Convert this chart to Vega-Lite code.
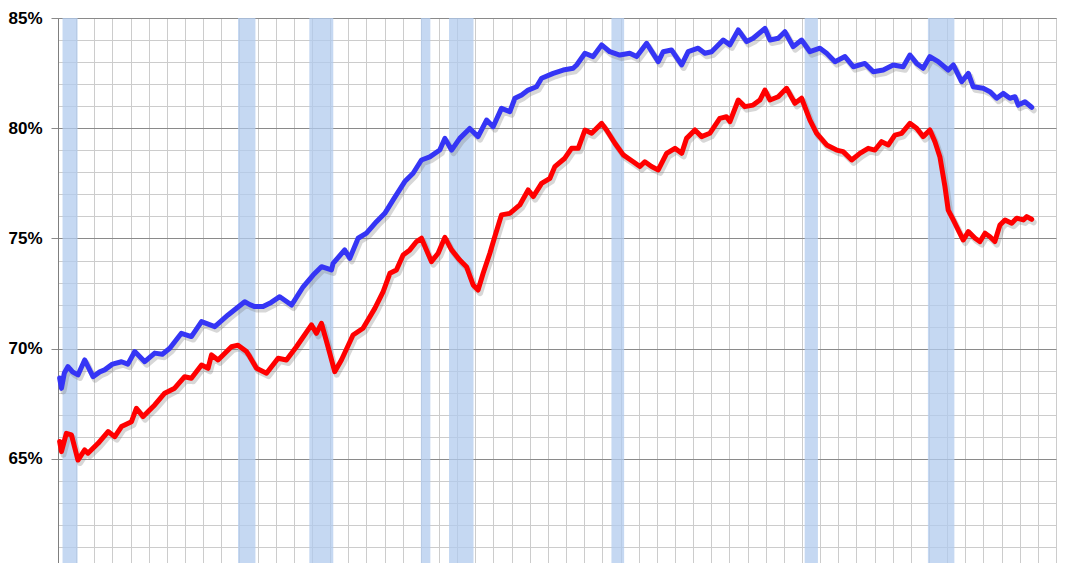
{
  "$schema": "https://vega.github.io/schema/vega-lite/v6.json",
  "width": 998,
  "height": 545,
  "autosize": {"type": "none"},
  "padding": {"left": 58, "top": 18, "right": 16, "bottom": 0},
  "background": "white",
  "config": {"view": {"stroke": "#8c8c8c", "strokeWidth": 1}},
  "datasets": {
    "rec": [
      {"start": 1960.25, "end": 1961.08},
      {"start": 1969.92, "end": 1970.88},
      {"start": 1973.85, "end": 1975.17},
      {"start": 1980.0, "end": 1980.52},
      {"start": 1981.55, "end": 1982.9},
      {"start": 1990.5, "end": 1991.2},
      {"start": 2001.15, "end": 2001.88},
      {"start": 2007.94, "end": 2009.4}
    ],
    "series": [
      {"s": "lfpr", "t": 1960.09, "v": 68.67},
      {"s": "lfpr", "t": 1960.19, "v": 68.2},
      {"s": "lfpr", "t": 1960.35, "v": 68.9},
      {"s": "lfpr", "t": 1960.55, "v": 69.19},
      {"s": "lfpr", "t": 1960.8, "v": 68.95},
      {"s": "lfpr", "t": 1961.1, "v": 68.81},
      {"s": "lfpr", "t": 1961.47, "v": 69.49},
      {"s": "lfpr", "t": 1961.93, "v": 68.73},
      {"s": "lfpr", "t": 1962.3, "v": 68.95},
      {"s": "lfpr", "t": 1962.57, "v": 69.04},
      {"s": "lfpr", "t": 1963.0, "v": 69.3},
      {"s": "lfpr", "t": 1963.5, "v": 69.41},
      {"s": "lfpr", "t": 1963.85, "v": 69.3},
      {"s": "lfpr", "t": 1964.23, "v": 69.87},
      {"s": "lfpr", "t": 1964.78, "v": 69.41},
      {"s": "lfpr", "t": 1965.33, "v": 69.8},
      {"s": "lfpr", "t": 1965.75, "v": 69.75},
      {"s": "lfpr", "t": 1966.16, "v": 70.02},
      {"s": "lfpr", "t": 1966.8, "v": 70.7},
      {"s": "lfpr", "t": 1967.35, "v": 70.55},
      {"s": "lfpr", "t": 1967.91, "v": 71.23},
      {"s": "lfpr", "t": 1968.64, "v": 71.0},
      {"s": "lfpr", "t": 1969.37, "v": 71.53},
      {"s": "lfpr", "t": 1970.29, "v": 72.13},
      {"s": "lfpr", "t": 1970.57, "v": 72.0},
      {"s": "lfpr", "t": 1970.84, "v": 71.91},
      {"s": "lfpr", "t": 1971.3, "v": 71.91},
      {"s": "lfpr", "t": 1971.75, "v": 72.1},
      {"s": "lfpr", "t": 1972.22, "v": 72.36},
      {"s": "lfpr", "t": 1972.87, "v": 71.98},
      {"s": "lfpr", "t": 1973.51, "v": 72.81},
      {"s": "lfpr", "t": 1974.06, "v": 73.34},
      {"s": "lfpr", "t": 1974.52, "v": 73.72},
      {"s": "lfpr", "t": 1975.07, "v": 73.57},
      {"s": "lfpr", "t": 1975.16, "v": 73.87},
      {"s": "lfpr", "t": 1975.8, "v": 74.48},
      {"s": "lfpr", "t": 1976.08, "v": 74.1},
      {"s": "lfpr", "t": 1976.54, "v": 75.01},
      {"s": "lfpr", "t": 1977.0, "v": 75.24},
      {"s": "lfpr", "t": 1977.55, "v": 75.76},
      {"s": "lfpr", "t": 1978.01, "v": 76.14},
      {"s": "lfpr", "t": 1978.47, "v": 76.75},
      {"s": "lfpr", "t": 1979.11, "v": 77.58},
      {"s": "lfpr", "t": 1979.57, "v": 77.96},
      {"s": "lfpr", "t": 1980.03, "v": 78.56},
      {"s": "lfpr", "t": 1980.49, "v": 78.7},
      {"s": "lfpr", "t": 1981.04, "v": 79.01},
      {"s": "lfpr", "t": 1981.32, "v": 79.54},
      {"s": "lfpr", "t": 1981.69, "v": 79.01},
      {"s": "lfpr", "t": 1982.14, "v": 79.54},
      {"s": "lfpr", "t": 1982.69, "v": 79.99},
      {"s": "lfpr", "t": 1983.15, "v": 79.62},
      {"s": "lfpr", "t": 1983.62, "v": 80.37},
      {"s": "lfpr", "t": 1983.98, "v": 80.07},
      {"s": "lfpr", "t": 1984.44, "v": 80.9},
      {"s": "lfpr", "t": 1984.9, "v": 80.75},
      {"s": "lfpr", "t": 1985.18, "v": 81.36},
      {"s": "lfpr", "t": 1985.55, "v": 81.51},
      {"s": "lfpr", "t": 1985.91, "v": 81.73},
      {"s": "lfpr", "t": 1986.37, "v": 81.88},
      {"s": "lfpr", "t": 1986.65, "v": 82.27},
      {"s": "lfpr", "t": 1987.29, "v": 82.49},
      {"s": "lfpr", "t": 1987.84, "v": 82.64},
      {"s": "lfpr", "t": 1988.39, "v": 82.72},
      {"s": "lfpr", "t": 1988.58, "v": 82.87},
      {"s": "lfpr", "t": 1989.04, "v": 83.4},
      {"s": "lfpr", "t": 1989.49, "v": 83.25},
      {"s": "lfpr", "t": 1989.96, "v": 83.78},
      {"s": "lfpr", "t": 1990.41, "v": 83.47},
      {"s": "lfpr", "t": 1990.96, "v": 83.32},
      {"s": "lfpr", "t": 1991.51, "v": 83.4},
      {"s": "lfpr", "t": 1991.89, "v": 83.25},
      {"s": "lfpr", "t": 1992.44, "v": 83.85},
      {"s": "lfpr", "t": 1993.08, "v": 83.02},
      {"s": "lfpr", "t": 1993.35, "v": 83.47},
      {"s": "lfpr", "t": 1993.81, "v": 83.55},
      {"s": "lfpr", "t": 1994.37, "v": 82.87},
      {"s": "lfpr", "t": 1994.73, "v": 83.47},
      {"s": "lfpr", "t": 1995.28, "v": 83.63},
      {"s": "lfpr", "t": 1995.65, "v": 83.4},
      {"s": "lfpr", "t": 1996.02, "v": 83.47},
      {"s": "lfpr", "t": 1996.66, "v": 84.0},
      {"s": "lfpr", "t": 1997.03, "v": 83.78},
      {"s": "lfpr", "t": 1997.49, "v": 84.46},
      {"s": "lfpr", "t": 1997.95, "v": 83.93},
      {"s": "lfpr", "t": 1998.31, "v": 84.08},
      {"s": "lfpr", "t": 1998.96, "v": 84.53},
      {"s": "lfpr", "t": 1999.24, "v": 84.0},
      {"s": "lfpr", "t": 1999.69, "v": 84.08},
      {"s": "lfpr", "t": 2000.06, "v": 84.38},
      {"s": "lfpr", "t": 2000.52, "v": 83.7},
      {"s": "lfpr", "t": 2000.98, "v": 84.0},
      {"s": "lfpr", "t": 2001.44, "v": 83.47},
      {"s": "lfpr", "t": 2001.99, "v": 83.63},
      {"s": "lfpr", "t": 2002.36, "v": 83.4},
      {"s": "lfpr", "t": 2002.82, "v": 83.02},
      {"s": "lfpr", "t": 2003.37, "v": 83.25},
      {"s": "lfpr", "t": 2003.83, "v": 82.79},
      {"s": "lfpr", "t": 2004.47, "v": 82.94},
      {"s": "lfpr", "t": 2004.93, "v": 82.56},
      {"s": "lfpr", "t": 2005.48, "v": 82.64},
      {"s": "lfpr", "t": 2006.03, "v": 82.87},
      {"s": "lfpr", "t": 2006.58, "v": 82.79},
      {"s": "lfpr", "t": 2006.95, "v": 83.32},
      {"s": "lfpr", "t": 2007.32, "v": 82.94},
      {"s": "lfpr", "t": 2007.68, "v": 82.72},
      {"s": "lfpr", "t": 2008.05, "v": 83.25},
      {"s": "lfpr", "t": 2008.51, "v": 83.02},
      {"s": "lfpr", "t": 2009.06, "v": 82.64},
      {"s": "lfpr", "t": 2009.34, "v": 82.87},
      {"s": "lfpr", "t": 2009.8, "v": 82.11},
      {"s": "lfpr", "t": 2010.17, "v": 82.49},
      {"s": "lfpr", "t": 2010.44, "v": 81.88},
      {"s": "lfpr", "t": 2010.99, "v": 81.81},
      {"s": "lfpr", "t": 2011.36, "v": 81.66},
      {"s": "lfpr", "t": 2011.73, "v": 81.36},
      {"s": "lfpr", "t": 2012.09, "v": 81.58},
      {"s": "lfpr", "t": 2012.46, "v": 81.36},
      {"s": "lfpr", "t": 2012.74, "v": 81.43},
      {"s": "lfpr", "t": 2012.92, "v": 81.05},
      {"s": "lfpr", "t": 2013.29, "v": 81.2},
      {"s": "lfpr", "t": 2013.66, "v": 80.95},
      {"s": "epop", "t": 1960.09, "v": 65.79},
      {"s": "epop", "t": 1960.19, "v": 65.33},
      {"s": "epop", "t": 1960.46, "v": 66.16},
      {"s": "epop", "t": 1960.74, "v": 66.09},
      {"s": "epop", "t": 1961.1, "v": 64.95},
      {"s": "epop", "t": 1961.47, "v": 65.41},
      {"s": "epop", "t": 1961.65, "v": 65.26},
      {"s": "epop", "t": 1962.21, "v": 65.71},
      {"s": "epop", "t": 1962.76, "v": 66.24},
      {"s": "epop", "t": 1963.13, "v": 66.01},
      {"s": "epop", "t": 1963.5, "v": 66.47},
      {"s": "epop", "t": 1964.05, "v": 66.69},
      {"s": "epop", "t": 1964.32, "v": 67.3},
      {"s": "epop", "t": 1964.69, "v": 66.92},
      {"s": "epop", "t": 1965.33, "v": 67.45},
      {"s": "epop", "t": 1965.88, "v": 67.98},
      {"s": "epop", "t": 1966.43, "v": 68.21},
      {"s": "epop", "t": 1966.98, "v": 68.73},
      {"s": "epop", "t": 1967.35, "v": 68.66},
      {"s": "epop", "t": 1967.91, "v": 69.26},
      {"s": "epop", "t": 1968.27, "v": 69.11},
      {"s": "epop", "t": 1968.46, "v": 69.72},
      {"s": "epop", "t": 1968.82, "v": 69.49},
      {"s": "epop", "t": 1969.56, "v": 70.09},
      {"s": "epop", "t": 1969.92, "v": 70.16},
      {"s": "epop", "t": 1970.39, "v": 69.87},
      {"s": "epop", "t": 1970.57, "v": 69.64},
      {"s": "epop", "t": 1970.94, "v": 69.11},
      {"s": "epop", "t": 1971.49, "v": 68.89},
      {"s": "epop", "t": 1972.13, "v": 69.57},
      {"s": "epop", "t": 1972.59, "v": 69.49},
      {"s": "epop", "t": 1973.14, "v": 70.09},
      {"s": "epop", "t": 1973.97, "v": 71.08},
      {"s": "epop", "t": 1974.24, "v": 70.7},
      {"s": "epop", "t": 1974.52, "v": 71.15},
      {"s": "epop", "t": 1974.88, "v": 70.09},
      {"s": "epop", "t": 1975.25, "v": 68.96},
      {"s": "epop", "t": 1975.62, "v": 69.49},
      {"s": "epop", "t": 1976.26, "v": 70.62},
      {"s": "epop", "t": 1976.81, "v": 70.93},
      {"s": "epop", "t": 1977.46, "v": 71.83},
      {"s": "epop", "t": 1977.92, "v": 72.59},
      {"s": "epop", "t": 1978.29, "v": 73.42},
      {"s": "epop", "t": 1978.65, "v": 73.57},
      {"s": "epop", "t": 1979.02, "v": 74.25},
      {"s": "epop", "t": 1979.39, "v": 74.48},
      {"s": "epop", "t": 1979.76, "v": 74.86},
      {"s": "epop", "t": 1980.03, "v": 75.01},
      {"s": "epop", "t": 1980.58, "v": 73.95},
      {"s": "epop", "t": 1980.95, "v": 74.33},
      {"s": "epop", "t": 1981.32, "v": 75.05},
      {"s": "epop", "t": 1981.69, "v": 74.48},
      {"s": "epop", "t": 1982.14, "v": 74.02},
      {"s": "epop", "t": 1982.51, "v": 73.72},
      {"s": "epop", "t": 1982.88, "v": 72.89},
      {"s": "epop", "t": 1983.15, "v": 72.66},
      {"s": "epop", "t": 1983.43, "v": 73.42},
      {"s": "epop", "t": 1983.8, "v": 74.33},
      {"s": "epop", "t": 1984.07, "v": 75.08},
      {"s": "epop", "t": 1984.44, "v": 76.07},
      {"s": "epop", "t": 1984.9, "v": 76.14},
      {"s": "epop", "t": 1985.45, "v": 76.52},
      {"s": "epop", "t": 1985.91, "v": 77.2},
      {"s": "epop", "t": 1986.19, "v": 76.9},
      {"s": "epop", "t": 1986.65, "v": 77.5},
      {"s": "epop", "t": 1987.11, "v": 77.73},
      {"s": "epop", "t": 1987.38, "v": 78.26},
      {"s": "epop", "t": 1987.93, "v": 78.64},
      {"s": "epop", "t": 1988.3, "v": 79.09},
      {"s": "epop", "t": 1988.67, "v": 79.09},
      {"s": "epop", "t": 1989.04, "v": 79.92},
      {"s": "epop", "t": 1989.41, "v": 79.77},
      {"s": "epop", "t": 1989.96, "v": 80.22},
      {"s": "epop", "t": 1990.23, "v": 79.92},
      {"s": "epop", "t": 1990.69, "v": 79.32},
      {"s": "epop", "t": 1991.15, "v": 78.79},
      {"s": "epop", "t": 1991.7, "v": 78.48},
      {"s": "epop", "t": 1992.07, "v": 78.26},
      {"s": "epop", "t": 1992.34, "v": 78.48},
      {"s": "epop", "t": 1992.71, "v": 78.26},
      {"s": "epop", "t": 1993.08, "v": 78.11},
      {"s": "epop", "t": 1993.54, "v": 78.86},
      {"s": "epop", "t": 1994.0, "v": 79.09},
      {"s": "epop", "t": 1994.37, "v": 78.86},
      {"s": "epop", "t": 1994.64, "v": 79.54},
      {"s": "epop", "t": 1995.1, "v": 79.92},
      {"s": "epop", "t": 1995.47, "v": 79.62},
      {"s": "epop", "t": 1995.92, "v": 79.77},
      {"s": "epop", "t": 1996.47, "v": 80.45},
      {"s": "epop", "t": 1996.84, "v": 80.52},
      {"s": "epop", "t": 1997.03, "v": 80.3},
      {"s": "epop", "t": 1997.49, "v": 81.28},
      {"s": "epop", "t": 1997.85, "v": 80.98},
      {"s": "epop", "t": 1998.31, "v": 81.05},
      {"s": "epop", "t": 1998.68, "v": 81.28},
      {"s": "epop", "t": 1998.96, "v": 81.73},
      {"s": "epop", "t": 1999.24, "v": 81.28},
      {"s": "epop", "t": 1999.69, "v": 81.43},
      {"s": "epop", "t": 2000.15, "v": 81.81},
      {"s": "epop", "t": 2000.61, "v": 81.13},
      {"s": "epop", "t": 2000.98, "v": 81.36},
      {"s": "epop", "t": 2001.44, "v": 80.37},
      {"s": "epop", "t": 2001.81, "v": 79.77},
      {"s": "epop", "t": 2002.36, "v": 79.24},
      {"s": "epop", "t": 2002.91, "v": 79.01},
      {"s": "epop", "t": 2003.27, "v": 78.94},
      {"s": "epop", "t": 2003.74, "v": 78.56},
      {"s": "epop", "t": 2004.19, "v": 78.86},
      {"s": "epop", "t": 2004.65, "v": 79.09},
      {"s": "epop", "t": 2005.02, "v": 79.01},
      {"s": "epop", "t": 2005.39, "v": 79.39},
      {"s": "epop", "t": 2005.76, "v": 79.24},
      {"s": "epop", "t": 2006.12, "v": 79.69},
      {"s": "epop", "t": 2006.49, "v": 79.77},
      {"s": "epop", "t": 2006.95, "v": 80.22},
      {"s": "epop", "t": 2007.32, "v": 80.0},
      {"s": "epop", "t": 2007.68, "v": 79.62},
      {"s": "epop", "t": 2008.05, "v": 79.92},
      {"s": "epop", "t": 2008.33, "v": 79.39},
      {"s": "epop", "t": 2008.6, "v": 78.71},
      {"s": "epop", "t": 2008.88, "v": 77.35},
      {"s": "epop", "t": 2009.06, "v": 76.29},
      {"s": "epop", "t": 2009.34, "v": 75.84},
      {"s": "epop", "t": 2009.61, "v": 75.39},
      {"s": "epop", "t": 2009.89, "v": 74.93},
      {"s": "epop", "t": 2010.17, "v": 75.31},
      {"s": "epop", "t": 2010.54, "v": 75.01},
      {"s": "epop", "t": 2010.81, "v": 74.86},
      {"s": "epop", "t": 2011.09, "v": 75.24},
      {"s": "epop", "t": 2011.36, "v": 75.08},
      {"s": "epop", "t": 2011.63, "v": 74.86},
      {"s": "epop", "t": 2011.91, "v": 75.61},
      {"s": "epop", "t": 2012.19, "v": 75.84},
      {"s": "epop", "t": 2012.56, "v": 75.69},
      {"s": "epop", "t": 2012.83, "v": 75.92},
      {"s": "epop", "t": 2013.2, "v": 75.84},
      {"s": "epop", "t": 2013.39, "v": 75.99},
      {"s": "epop", "t": 2013.66, "v": 75.87}
    ]
  },
  "layer": [
    {
      "data": {"name": "rec"},
      "mark": {"type": "rect", "color": "#b2cbee", "opacity": 0.75},
      "encoding": {
        "x": {
          "field": "start", "type": "quantitative",
          "scale": {"domain": [1960, 2015], "nice": false, "zero": false},
          "axis": {
            "values": [1960,1961,1962,1963,1964,1965,1966,1967,1968,1969,1970,1971,1972,1973,1974,1975,1976,1977,1978,1979,1980,1981,1982,1983,1984,1985,1986,1987,1988,1989,1990,1991,1992,1993,1994,1995,1996,1997,1998,1999,2000,2001,2002,2003,2004,2005,2006,2007,2008,2009,2010,2011,2012,2013,2014,2015],
            "tickCount": 200,
            "labels": false, "ticks": false, "domain": false, "title": null,
            "grid": true, "gridColor": "#cccccc", "gridWidth": 1
          }
        },
        "x2": {"field": "end"},
        "y": {"datum": 60.28, "type": "quantitative"},
        "y2": {"datum": 85}
      }
    },
    {
      "data": {"name": "series"},
      "mark": {"type": "line", "strokeWidth": 6, "color": "#7a7a7a", "opacity": 0.3, "xOffset": 2, "yOffset": 3, "strokeJoin": "round", "strokeCap": "round"},
      "encoding": {
        "x": {"field": "t", "type": "quantitative"},
        "y": {"field": "v", "type": "quantitative"},
        "detail": {"field": "s"}
      }
    },
    {
      "data": {"name": "series"},
      "mark": {"type": "line", "strokeWidth": 5, "strokeJoin": "round", "strokeCap": "round"},
      "encoding": {
        "x": {"field": "t", "type": "quantitative"},
        "y": {
          "field": "v", "type": "quantitative",
          "scale": {"domain": [60.28, 85], "nice": false, "zero": false},
          "axis": {
            "values": [61,62,63,64,65,66,67,68,69,70,71,72,73,74,75,76,77,78,79,80,81,82,83,84,85],
            "tickCount": 200,
            "title": null,
            "domain": true, "domainColor": "#7f7f7f",
            "grid": true,
            "gridColor": {"condition": {"test": "datum.value % 5 === 0", "value": "#8a8a8a"}, "value": "#cccccc"},
            "tickOpacity": {"condition": {"test": "datum.value % 5 === 0", "value": 1}, "value": 0},
            "tickColor": "#8a8a8a", "tickSize": 7,
            "labelExpr": "datum.value % 5 === 0 ? datum.value + '%' : ''",
            "labelOverlap": false, "labelFlush": false, "labelBound": false,
            "labelFont": "Liberation Sans", "labelFontSize": 17, "labelFontWeight": "bold",
            "labelColor": "#000000", "labelPadding": 9
          }
        },
        "color": {
          "field": "s", "type": "nominal",
          "scale": {"domain": ["lfpr", "epop"], "range": ["#3535f5", "#ff0000"]},
          "legend": null
        }
      }
    }
  ]
}
